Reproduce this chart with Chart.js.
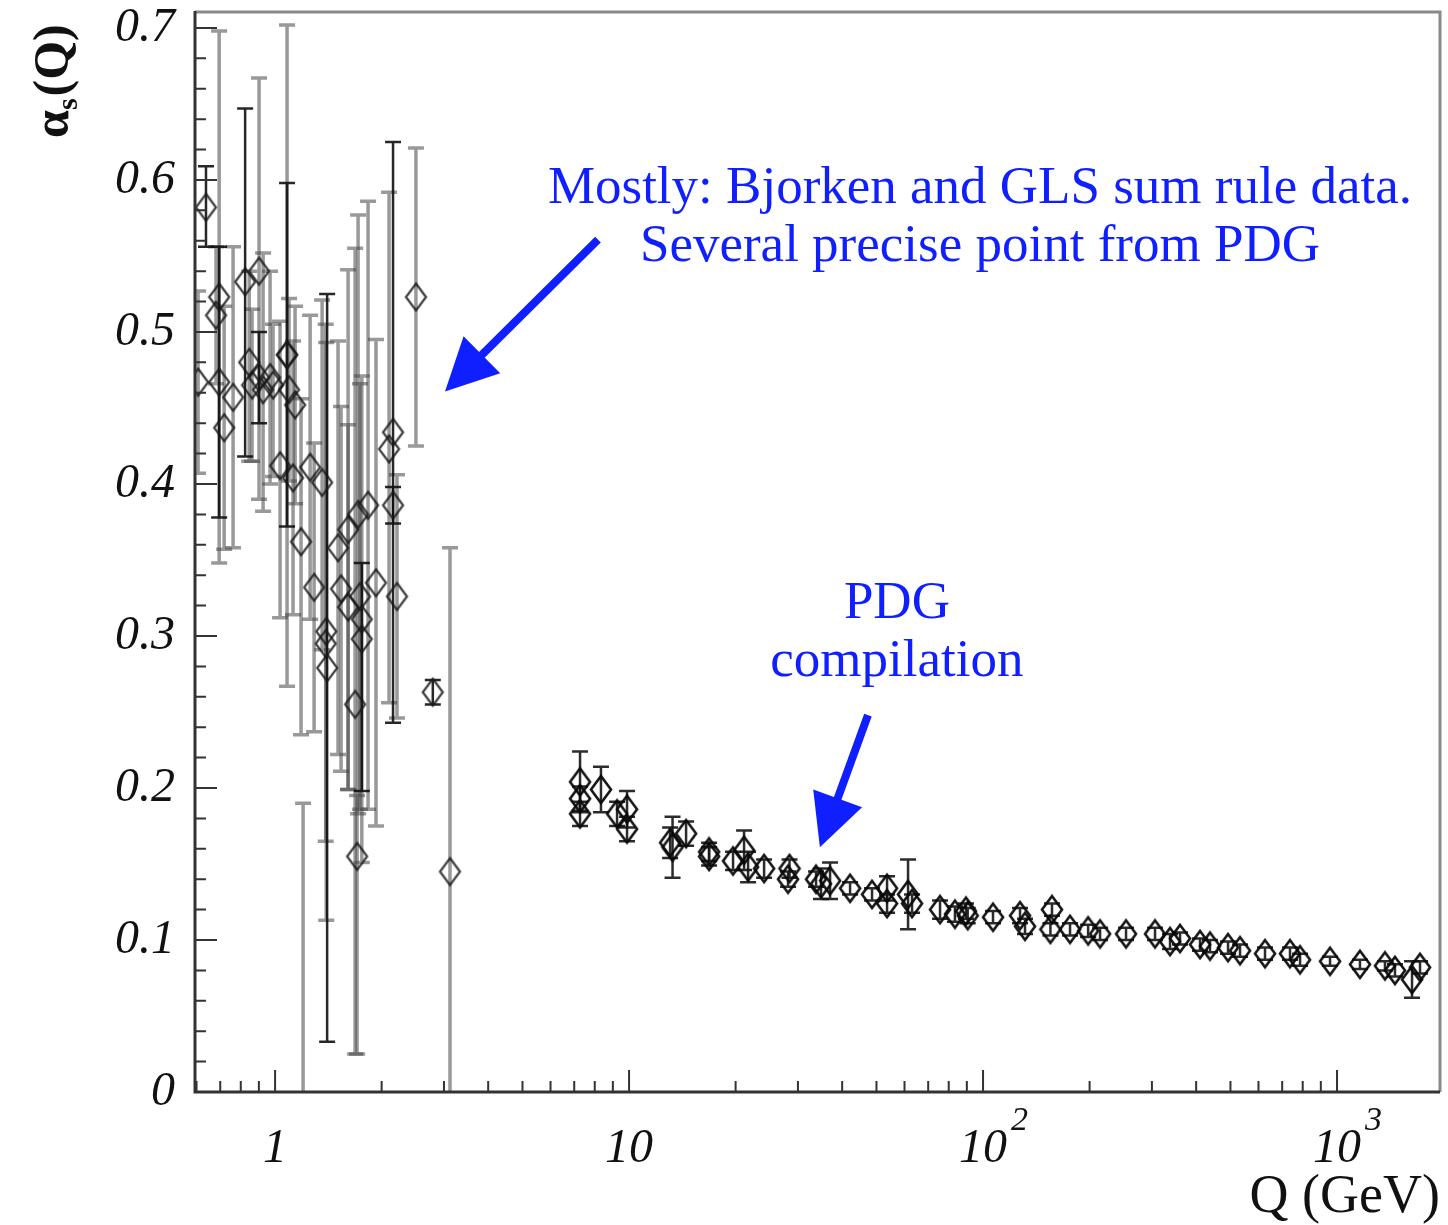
<!DOCTYPE html>
<html>
<head>
<meta charset="utf-8">
<script src="https://cdn.jsdelivr.net/npm/chart.js@4/dist/chart.umd.min.js"></script>
<style>
html,body{margin:0;padding:0;background:#fff;}
#wrap{width:1448px;height:1225px;}
</style>
</head>
<body>
<div id="wrap"><canvas id="c" width="1448" height="1225"></canvas></div>
<script>
// ---------- data ----------
// Low-Q points, grey error bars (Bjorken / GLS sum rule)
const lowGrayQ = [0.606,0.681,0.695,0.718,0.761,0.845,0.861,0.901,0.925,0.968,0.987,1.033,1.081,1.095,1.124,1.139,1.184,1.200,1.256,1.289,1.358,1.395,1.390,1.506,1.536,1.608,1.608,1.683,1.705,1.716,1.738,1.758,1.831,1.928,2.099,2.21,2.50,3.12];
const lowGrayA = [0.467,0.511,0.523,0.437,0.457,0.480,0.465,0.540,0.462,0.470,0.465,0.412,0.485,0.462,0.404,0.452,0.362,-0.05,0.411,0.332,0.401,0.303,0.295,0.358,0.331,0.370,0.319,0.255,0.155,0.380,0.326,0.311,0.386,0.335,0.423,0.326,0.523,0.145];
const lowGrayUp = [0.06,0.045,0.175,0.08,0.099,0.06,0.05,0.127,0.09,0.07,0.04,0.095,0.217,0.06,0.09,0.065,0.094,0.24,0.10,0.095,0.12,0.19,0.21,0.136,0.12,0.171,0.12,0.30,0.04,0.197,0.14,0.16,0.20,0.16,0.169,0.08,0.098,0.213];
const lowGrayDn = [0.06,0.045,0.175,0.08,0.099,0.065,0.05,0.150,0.08,0.07,0.06,0.10,0.218,0.06,0.09,0.065,0.127,0.24,0.10,0.095,0.11,0.19,0.13,0.136,0.12,0.171,0.12,0.23,0.13,0.197,0.14,0.16,0.20,0.16,0.167,0.08,0.098,0.213];
// Low-Q points, dark error bars
const lowDarkQ = [0.638,0.695,0.823,0.901,1.081,1.403,1.758,2.154,2.154,2.79];
const lowDarkA = [0.582,0.467,0.533,0.470,0.485,0.279,0.298,0.434,0.386,0.263];
const lowDarkUp = [0.027,0.089,0.114,0.03,0.113,0.246,0.05,0.191,0.012,0.008];
const lowDarkDn = [0.026,0.089,0.115,0.03,0.113,0.246,0.10,0.191,0.012,0.008];
// PDG compilation
const pdgQ = [7.27,7.27,7.27,8.33,9.25,9.87,9.87,13.06,13.27,14.49,16.83,16.83,19.67,21.13,21.69,24.07,28.13,28.4,33.75,34.86,36.97,42.11,48.58,53.56,53.56,61.4,63.02,75.6,83.3,89.5,90.5,106.7,127.2,131.4,156.6,155,176.1,198.1,214.1,253.5,306.1,337.5,360.2,410.2,437.7,492.2,532.1,626.0,736.5,786.3,955.5,1161,1366,1458,1629,1716];
const pdgA = [0.204,0.193,0.183,0.199,0.183,0.186,0.173,0.164,0.161,0.170,0.155,0.158,0.152,0.159,0.148,0.147,0.140,0.147,0.140,0.137,0.139,0.134,0.130,0.134,0.124,0.130,0.124,0.120,0.117,0.119,0.116,0.115,0.116,0.109,0.120,0.107,0.107,0.106,0.104,0.104,0.104,0.099,0.101,0.097,0.096,0.095,0.093,0.091,0.091,0.087,0.086,0.084,0.083,0.080,0.074,0.082];
const pdgErr = [0.020,0.008,0.008,0.015,0.008,0.012,0.008,0.010,0.020,0.008,0.006,0.006,0.006,0.013,0.010,0.006,0.005,0.006,0.005,0.010,0.012,0.004,0.004,0.008,0.006,0.023,0.006,0.006,0.005,0.005,0.005,0.004,0.005,0.005,0.004,0.004,0.004,0.004,0.004,0.004,0.004,0.005,0.004,0.004,0.004,0.004,0.004,0.004,0.004,0.004,0.003,0.003,0.003,0.004,0.012,0.004];

// axis ticks
const yTickValues = [0,0.1,0.2,0.3,0.4,0.5,0.6,0.7];
const xDecades = [1,10,100,1000];
const xDecadeBase = ['1','10','10','10'];
const xDecadeExp = ['','','2','3'];
const xTitle = 'Q (GeV)';
const yTitleMain = 'α';
const yTitleSub = 's';
const yTitleTail = '(Q)';

// annotations (data coordinates)
const noteLines = [
  {text:'Mostly: Bjorken and GLS sum rule data.', q:98, a:0.5937},
  {text:'Several precise point from PDG', q:98, a:0.5556},
  {text:'PDG', q:57.1, a:0.3208},
  {text:'compilation', q:57.1, a:0.2827}
];
const noteArrows = [
  {from:[8.17,0.5608], to:[3.02,0.4609]},
  {from:[47.3,0.2479], to:[34.6,0.161]}
];

// ---------- rendering ----------
const SERIF = "'Liberation Serif','Times New Roman',serif";
const BLUE = '#0f1fff';

function makeDiamond(w, h, color, lw) {
  const c = document.createElement('canvas');
  c.width = Math.ceil(w + lw*2); c.height = Math.ceil(h + lw*2);
  const g = c.getContext('2d');
  g.strokeStyle = color; g.lineWidth = lw;
  const cx = c.width/2, cy = c.height/2;
  g.beginPath();
  g.moveTo(cx, cy-h/2); g.lineTo(cx+w/2, cy); g.lineTo(cx, cy+h/2); g.lineTo(cx-w/2, cy);
  g.closePath(); g.stroke();
  return c;
}
const diamondDark = makeDiamond(20, 27, 'rgba(25,25,25,0.85)', 2.2);
const diamondBold = makeDiamond(20, 27, 'rgba(10,10,10,0.95)', 2.6);

const pts = (qs, as) => qs.map((q,i)=>({x:q, y:as[i]}));

const errorBarPlugin = {
  id:'errorBars',
  beforeDatasetsDraw(chart){
    const {ctx, chartArea:a} = chart;
    const ys = chart.scales.y;
    ctx.save();
    ctx.beginPath(); ctx.rect(a.left, a.top, a.right-a.left, a.bottom-a.top); ctx.clip();
    chart.data.datasets.forEach((ds, i) => {
      const meta = chart.getDatasetMeta(i);
      ctx.strokeStyle = ds.errColor; ctx.lineWidth = ds.errWidth;
      ds.data.forEach((p, j) => {
        const el = meta.data[j];
        const x = el.x;
        const y1 = ys.getPixelForValue(p.y + ds.errUp[j]);
        const y2 = ys.getPixelForValue(p.y - ds.errDn[j]);
        const cw = ds.capHalf;
        ctx.beginPath();
        ctx.moveTo(x, y1); ctx.lineTo(x, y2);
        ctx.moveTo(x-cw, y1); ctx.lineTo(x+cw, y1);
        ctx.moveTo(x-cw, y2); ctx.lineTo(x+cw, y2);
        ctx.stroke();
      });
    });
    ctx.restore();
  }
};

const decorPlugin = {
  id:'decor',
  afterDraw(chart){
    const {ctx, chartArea:a} = chart;
    const xs = chart.scales.x, ys = chart.scales.y;
    ctx.save();
    // frame (top/right grey)
    ctx.strokeStyle = '#8a8a8a'; ctx.lineWidth = 3;
    ctx.beginPath(); ctx.moveTo(a.left, a.top); ctx.lineTo(a.right, a.top); ctx.lineTo(a.right, a.bottom); ctx.stroke();
    // axes
    ctx.strokeStyle = '#333'; ctx.lineWidth = 3;
    ctx.beginPath(); ctx.moveTo(a.left, a.top-1); ctx.lineTo(a.left, a.bottom); ctx.lineTo(a.right, a.bottom); ctx.stroke();
    // y ticks
    ctx.lineWidth = 2;
    ctx.beginPath();
    for (let k = 0; k <= 35; k++) {
      const v = k*0.02;
      const y = ys.getPixelForValue(v);
      const len = (k % 5 === 0) ? 22 : 11;
      ctx.moveTo(a.left, y); ctx.lineTo(a.left+len, y);
    }
    // x ticks
    for (let d = -1; d <= 3; d++) {
      for (let m = 1; m <= 9; m++) {
        const q = m * Math.pow(10, d);
        if (q < xs.min || q > xs.max) continue;
        const x = xs.getPixelForValue(q);
        const len = (m === 1) ? 22 : 11;
        ctx.moveTo(x, a.bottom); ctx.lineTo(x, a.bottom-len);
      }
    }
    ctx.stroke();
    // x labels
    ctx.fillStyle = '#111';
    ctx.textBaseline = 'alphabetic';
    xDecades.forEach((q, i) => {
      const x = xs.getPixelForValue(q);
      ctx.font = 'italic 48px ' + SERIF;
      const base = xDecadeBase[i];
      const wb = ctx.measureText(base).width;
      const x0 = x - wb/2;
      ctx.textAlign = 'left';
      ctx.fillText(base, x0, 1162);
      if (xDecadeExp[i]) {
        ctx.font = 'italic 34px ' + SERIF;
        ctx.fillText(xDecadeExp[i], x0 + wb + 4, 1130);
      }
    });
    // x title
    ctx.font = '54px ' + SERIF;
    ctx.textAlign = 'right';
    ctx.fillText(xTitle, 1440, 1212);
    // y title (rotated)
    ctx.save();
    ctx.translate(68, 138);
    ctx.rotate(-Math.PI/2);
    ctx.textAlign = 'left';
    ctx.font = 'bold 50px ' + SERIF;
    ctx.fillText(yTitleMain, 0, 0);
    let wx = ctx.measureText(yTitleMain).width;
    ctx.font = 'bold 30px ' + SERIF;
    ctx.fillText(yTitleSub, wx, 9);
    wx += ctx.measureText(yTitleSub).width + 2;
    ctx.font = 'bold 50px ' + SERIF;
    ctx.fillText(yTitleTail, wx, 0);
    ctx.restore();
    // annotations
    ctx.fillStyle = BLUE;
    ctx.font = '53px ' + SERIF;
    ctx.textAlign = 'center'; ctx.textBaseline = 'middle';
    noteLines.forEach(n => {
      ctx.fillText(n.text, xs.getPixelForValue(n.q), ys.getPixelForValue(n.a));
    });
    noteArrows.forEach(ar => {
      const x1 = xs.getPixelForValue(ar.from[0]), y1 = ys.getPixelForValue(ar.from[1]);
      const x2 = xs.getPixelForValue(ar.to[0]), y2 = ys.getPixelForValue(ar.to[1]);
      const ang = Math.atan2(y2-y1, x2-x1);
      const headL = 52, headW = 26;
      const bx = x2 - headL*Math.cos(ang), by = y2 - headL*Math.sin(ang);
      ctx.strokeStyle = BLUE; ctx.lineWidth = 8; ctx.lineCap = 'butt';
      ctx.beginPath(); ctx.moveTo(x1, y1); ctx.lineTo(bx + 4*Math.cos(ang), by + 4*Math.sin(ang)); ctx.stroke();
      ctx.fillStyle = BLUE;
      ctx.beginPath();
      ctx.moveTo(x2, y2);
      ctx.lineTo(bx - headW*Math.sin(ang), by + headW*Math.cos(ang));
      ctx.lineTo(bx + headW*Math.sin(ang), by - headW*Math.cos(ang));
      ctx.closePath(); ctx.fill();
    });
    ctx.restore();
  }
};

new Chart(document.getElementById('c'), {
  type:'scatter',
  data:{
    datasets:[
      {label:'low Q (grey)', data:pts(lowGrayQ, lowGrayA), errUp:lowGrayUp, errDn:lowGrayDn,
       errColor:'rgba(70,70,70,0.55)', errWidth:3.5, capHalf:8,
       pointStyle:diamondDark, showLine:false},
      {label:'low Q (dark)', data:pts(lowDarkQ, lowDarkA), errUp:lowDarkUp, errDn:lowDarkDn,
       errColor:'rgba(15,15,15,0.9)', errWidth:2.5, capHalf:8,
       pointStyle:diamondDark, showLine:false},
      {label:'PDG', data:pts(pdgQ, pdgA), errUp:pdgErr, errDn:pdgErr,
       errColor:'rgba(20,20,20,0.9)', errWidth:2.5, capHalf:8,
       pointStyle:diamondBold, showLine:false}
    ]
  },
  options:{
    responsive:false, animation:false, devicePixelRatio:1,
    layout:{padding:{top:12, right:8, left:0, bottom:0}},
    plugins:{legend:{display:false}, tooltip:{enabled:false}},
    scales:{
      x:{type:'logarithmic', min:0.594, max:1954,
         grid:{display:false, drawTicks:false}, border:{display:false},
         ticks:{display:false},
         afterFit(s){ s.height = 133; s.paddingLeft = 0; s.paddingRight = 0; }},
      y:{type:'linear', min:0, max:0.7105,
         grid:{display:false, drawTicks:false}, border:{display:false},
         afterBuildTicks(s){ s.ticks = yTickValues.map(v=>({value:v})); },
         ticks:{padding:20, color:'#111', font:{family:SERIF, style:'italic', size:48},
                callback:(v)=> v===0 ? '0' : v.toFixed(1)},
         afterFit(s){ s.width = 195; s.paddingTop = 0; s.paddingBottom = 0; }}
    }
  },
  plugins:[errorBarPlugin, decorPlugin]
});
</script>
</body>
</html>
